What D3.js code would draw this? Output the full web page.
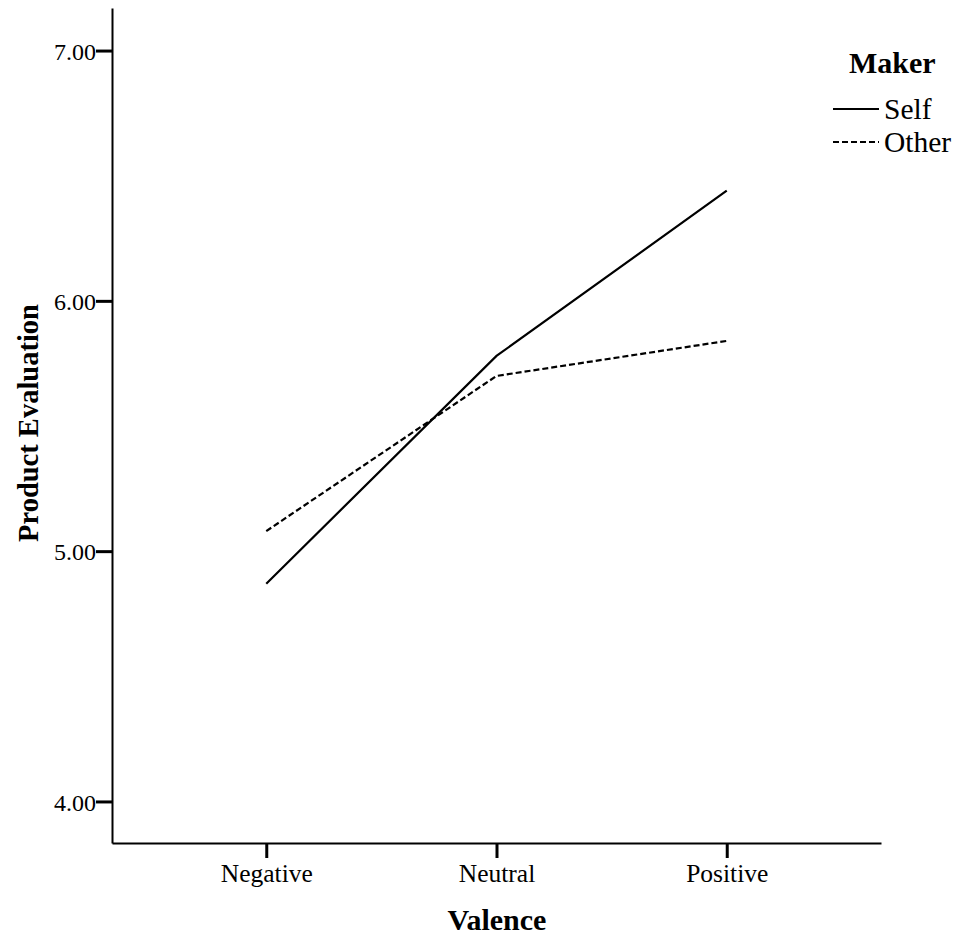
<!DOCTYPE html>
<html><head><meta charset="utf-8">
<script src="https://cdn.jsdelivr.net/npm/d3@7"></script>
<style>
body{margin:0;background:#fff;}
svg text{font-family:"Liberation Serif","DejaVu Serif",serif !important;fill:#000;}
</style></head>
<body><svg id="c" width="961" height="940"></svg>
<script>
const categories = ["Negative","Neutral","Positive"];
const selfValues = [4.87, 5.78, 6.44];
const otherValues = [5.08, 5.70, 5.84];
const yTicks = [4, 5, 6, 7];
const seriesNames = ["Self","Other"];

const FONT = '"Liberation Serif", serif';
const svg = d3.select("#c");
const x = d3.scalePoint().domain(categories).range([112, 881]).padding(0.67);
const y = d3.scaleLinear().domain([3.834, 7.17]).range([843, 8]);

// Y axis
const yAxis = d3.axisLeft(y).tickValues(yTicks).tickFormat(d3.format(".2f")).tickSize(16).tickSizeOuter(0);
const gy = svg.append("g").attr("transform","translate(112,0)").call(yAxis).attr("font-family",FONT);
gy.select(".domain").attr("stroke","#000").attr("stroke-width",2);
gy.selectAll(".tick line").attr("stroke","#000").attr("stroke-width",3);
gy.selectAll(".tick text").attr("x",-16).attr("dy","0.36em").attr("font-size",24);

// X axis
const xAxis = d3.axisBottom(x).tickSize(15).tickSizeOuter(0);
const gx = svg.append("g").attr("transform","translate(0,843)").call(xAxis).attr("font-family",FONT);
gx.select(".domain").attr("stroke","#000").attr("stroke-width",2);
gx.selectAll(".tick line").attr("stroke","#000").attr("stroke-width",3);
gx.selectAll(".tick text").attr("y",21).attr("dy","0.71em").attr("font-size",25.5);

// Axis titles
svg.append("text").attr("x",497).attr("y",930).attr("text-anchor","middle")
  .attr("font-size",30).attr("font-weight","bold").text("Valence");
svg.append("text").attr("transform","translate(38,423) rotate(-90)").attr("text-anchor","middle")
  .attr("font-size",28.5).attr("font-weight","bold").text("Product Evaluation");

// Lines
const line = d3.line().x((d,i)=>x(categories[i])).y(d=>y(d));
svg.append("path").datum(selfValues).attr("d",line).attr("fill","none").attr("stroke","#000").attr("stroke-width",2.2);
svg.append("path").datum(otherValues).attr("d",line).attr("fill","none").attr("stroke","#000").attr("stroke-width",2.2).attr("stroke-dasharray","6,3");

// Legend
svg.append("text").attr("x",849).attr("y",73).attr("font-size",30).attr("font-weight","bold").text("Maker");
const lg = svg.append("g");
seriesNames.forEach((name,i)=>{
  const yy = 109 + i*33;
  lg.append("line").attr("x1",833).attr("x2",879).attr("y1",yy).attr("y2",yy)
    .attr("stroke","#000").attr("stroke-width",2.2).attr("stroke-dasharray", i===1 ? "6,3" : null);
  lg.append("text").attr("x",884).attr("y",yy+10).attr("font-size",29.5).text(name);
});
</script></body></html>
